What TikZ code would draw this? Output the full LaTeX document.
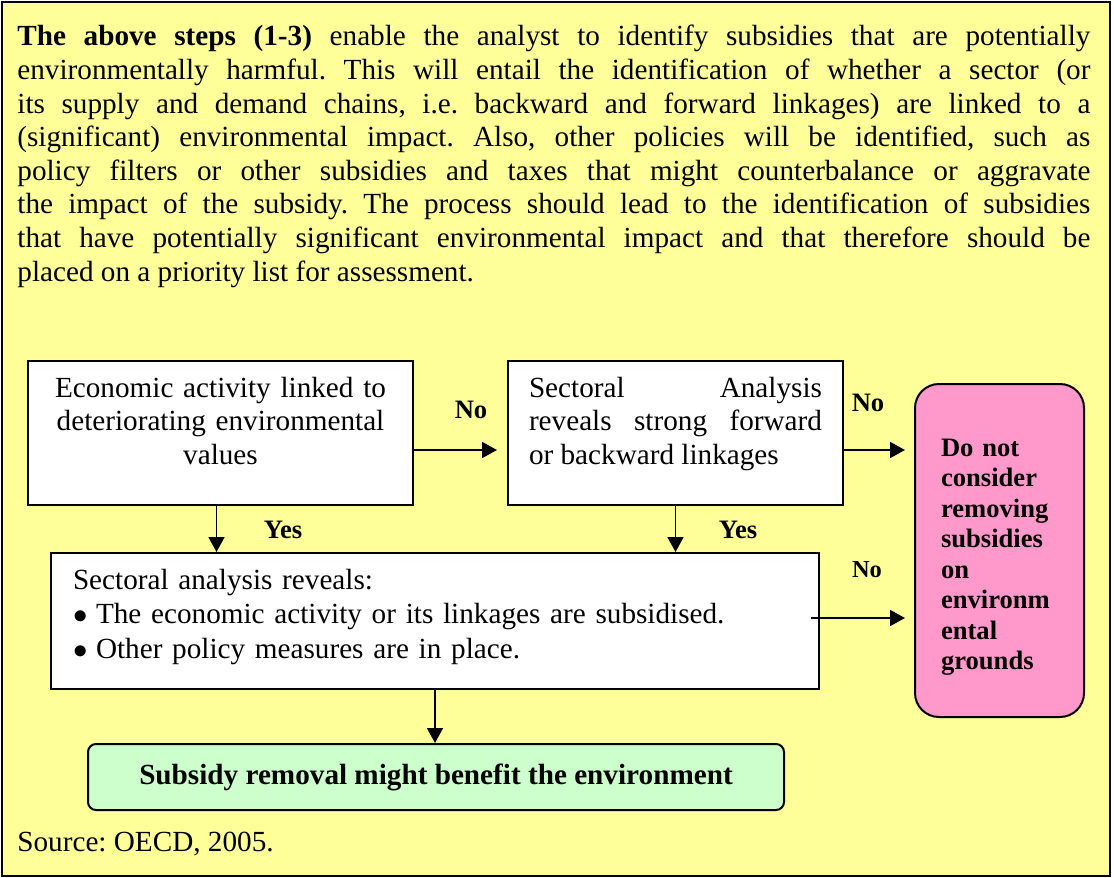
\documentclass[tikz,border=0pt]{standalone}
\usepackage{fontspec}
\setmainfont{Liberation Serif}
\usetikzlibrary{arrows.meta}
\definecolor{notepad}{HTML}{FFFF99}
\definecolor{stoppink}{HTML}{FF99CC}
\definecolor{gogreen}{HTML}{CCFFCC}
\frenchspacing

\begin{document}
\begin{tikzpicture}[x=0.5pt,y=-0.5pt,
  every node/.style={inner sep=0pt},
  stepbox/.style={draw, line width=1pt, fill=white, anchor=north west,
    font=\fontsize{14.6}{16.9}\selectfont},
  answer/.style={font=\bfseries\fontsize{13.3}{15}\selectfont},
  arr/.style={line width=0.9pt, -{Triangle[length=7.5pt,width=8pt]}}]
\useasboundingbox (0,0) rectangle (1114,878);
\draw[line width=1.2pt, fill=notepad] (2,2) rectangle (1110,876);

\node[anchor=base west, text width=536.5pt, align=justify,
  font=\fontsize{14.6}{16.8}\selectfont] (intro) at (17,46)
  {\textbf{The above steps (1-3)} enable the analyst to identify subsidies that are potentially\linebreak
   environmentally harmful. This will entail the identification of whether a sector (or\linebreak
   its supply and demand chains, i.e. backward and forward linkages) are linked to a\linebreak
   (significant) environmental impact. Also, other policies will be identified, such as\linebreak
   policy filters or other subsidies and taxes that might counterbalance or aggravate\linebreak
   the impact of the subsidy. The process should lead to the identification of subsidies\linebreak
   that have potentially significant environmental impact and that therefore should be\linebreak
   placed on a priority list for assessment.};

% the three question boxes
\node[stepbox, text width=192.5pt, align=center, text height=18pt, text depth=54pt] (econ) at (27,360)
  {Economic activity linked to\\ deteriorating environmental\\ values};
\node[stepbox, inner xsep=10.5pt, text width=146.5pt, align=justify, text height=18pt, text depth=54pt] (sect) at (507,360)
  {Sectoral Analysis\linebreak reveals strong forward\linebreak or backward linkages};
\node[stepbox, inner xsep=11pt, text width=362pt, align=left, text height=18pt, text depth=50pt,
  font=\fontsize{14.6}{17.4}\selectfont] (reveal) at (50,552)
  {Sectoral analysis reveals:\\
   \makebox[11.5pt][l]{$\bullet$}The economic activity or its linkages are subsidised.\\
   \makebox[11.5pt][l]{$\bullet$}Other policy measures are in place.};

% outcomes
\node[draw, line width=1pt, fill=stoppink, rounded corners=12pt, anchor=north west,
  inner xsep=13pt, text width=58.5pt, align=left, text height=36pt, text depth=130.5pt,
  font=\bfseries\fontsize{13.3}{15.25}\selectfont] (nogo) at (914,383)
  {Do not\\ consider\\ removing\\ subsidies\\ on\\ environm\\ ental\\ grounds};
\node[draw, line width=1pt, fill=gogreen, rounded corners=4pt, anchor=north west,
  minimum width=348pt, minimum height=33pt,
  font=\bfseries\fontsize{14.6}{16.8}\selectfont] (benefit) at (87,743)
  {Subsidy removal might benefit the environment};

\node[anchor=base west, font=\fontsize{14.6}{16.8}\selectfont] (source) at (17,851) {Source: OECD, 2005.};

% connectors
\draw[arr, shorten >=5pt] ([yshift=-8.5pt]econ.east) -- ([yshift=-8.5pt]econ.east -| sect.west);
\draw[arr, shorten >=4.5pt] ([yshift=-8.5pt]sect.east) -- ([yshift=-8.5pt]sect.east -| nogo.west);
\draw[arr] ([xshift=-2pt]econ.south) -- ([xshift=-2pt]econ.south |- reveal.north);
\draw[arr] (sect.south) -- (sect.south |- reveal.north);
\draw[arr, shorten >=4.5pt] ([xshift=-4.5pt,yshift=1.5pt]reveal.east) -- ([yshift=1.5pt]reveal.east -| nogo.west);
\draw[arr] (reveal.south) -- (reveal.south |- benefit.north);

\node[answer] (no1) at (471,410) {No};
\node[answer] (no2) at (868,403) {No};
\node[answer] (yes1) at (283,530) {Yes};
\node[answer] (yes2) at (738,530) {Yes};
\node[answer, font=\bfseries\fontsize{12.2}{14}\selectfont] (no3) at (867,570) {No};
\end{tikzpicture}
\end{document}
